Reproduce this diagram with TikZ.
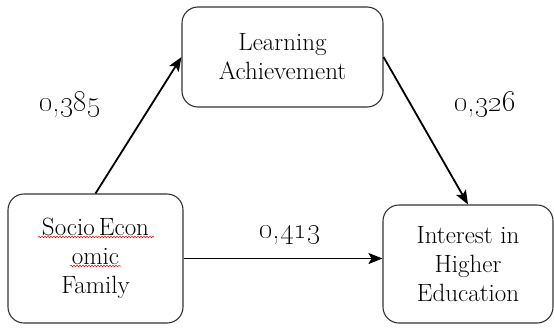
\documentclass[tikz,border=0pt]{standalone}
\usetikzlibrary{arrows.meta,decorations.pathmorphing}
\begin{document}
\begin{tikzpicture}[x=1pt,y=-1pt,
  box/.style={draw=black!80, line width=1.1pt, rounded corners=16pt, align=center,
    inner sep=0pt, font=\fontsize{25}{29}\selectfont},
  conn/.style={line width=1.8pt, -{Stealth[length=14pt,width=11pt,inset=3pt]}},
  coef/.style={font=\fontsize{29}{32}\selectfont},
  spell/.style={red, line width=0.5pt, decorate, decoration={snake, amplitude=0.8pt, segment length=3pt}}]
\useasboundingbox (0,0) rectangle (554,327);
\node[box, minimum width=175pt, minimum height=129pt] (socio) at (95.5,258.5)
  {Socio\,Econ\\omic\\Family};
\node[box, minimum width=201pt, minimum height=100pt] (learn) at (282.5,57)
  {Learning\\Achievement};
\node[box, minimum width=170pt, minimum height=118pt] (interest) at (468,264)
  {Interest in\\Higher\\Education};
\coordinate (sp1a) at (38,237);
\coordinate (sp1b) at (154,237);
\coordinate (sp2a) at (70,266);
\coordinate (sp2b) at (121,266);
\draw[spell] (sp1a) -- (sp1b);
\draw[spell] (sp2a) -- (sp2b);
\draw[conn] (socio.north) -- (learn.west);
\draw[conn] (learn.east) -- (interest.north);
\draw[conn] (socio.east) -- (socio.east -| interest.west);
\node[coef] (c1) at (70,105) {\oldstylenums{0,385}};
\node[coef] (c2) at (485,105) {\oldstylenums{0,326}};
\node[coef] (c3) at (290,235) {\oldstylenums{0,413}};
\end{tikzpicture}
\end{document}
